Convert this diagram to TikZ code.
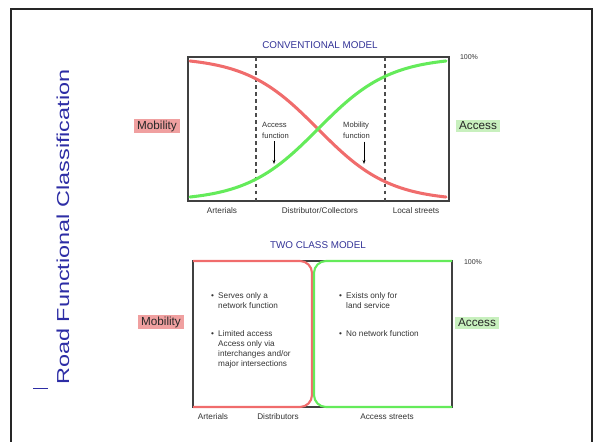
\documentclass[tikz,border=0pt]{standalone}
\usepackage{fontspec}
\setmainfont{Liberation Sans}
\usetikzlibrary{arrows.meta, positioning}

\definecolor{mobred}{RGB}{240,108,108}
\definecolor{accgreen}{RGB}{100,235,90}
\definecolor{mobfill}{RGB}{240,160,160}
\definecolor{accfill}{RGB}{200,240,190}
\definecolor{titleblue}{RGB}{50,50,150}
\definecolor{sideblue}{RGB}{45,45,165}

\newcommand{\blt}{\makebox[2.1mm][l]{\textbullet}}
\newcommand{\hang}{\hspace*{2.1mm}}

\begin{document}
\begin{tikzpicture}[x=0.03cm, y=-0.03cm,
    frame/.style={line width=1.7pt, black!85},
    chart/.style={draw=black!75, line width=0.9pt},
    divider/.style={dashed, line width=0.9pt, black!70},
    curve/.style={line width=2.6pt, line cap=round},
    heading/.style={font=\fontsize{8.4}{10}\selectfont, text=titleblue},
    axislabel/.style={font=\fontsize{7}{8}\selectfont, text=black!80},
    pct/.style={font=\fontsize{6}{7}\selectfont, text=black!80},
    tag/.style={font=\fontsize{10}{11}\selectfont, inner xsep=2.5pt, inner ysep=1.5pt, text=black!85},
    fnlabel/.style={font=\fontsize{6.5}{9}\selectfont, align=left, text=black!80, anchor=north west, inner sep=0pt},
    note/.style={font=\fontsize{7}{8.5}\selectfont, align=left, text=black!80, anchor=north west, inner sep=0pt},
    pointer/.style={-{Stealth[length=3.5pt, width=2.5pt]}, line width=0.6pt}
]
    \useasboundingbox (0,0) rectangle (593,441);

    % Slide frame
    \draw[frame] (11,445) -- (11,9) -- (592,9) -- (592,445);
    \draw[sideblue, line width=0.8pt] (33,388) -- (48,388);

    % Side title
    \node[rotate=90, yscale=0.74, font=\fontsize{20}{22}\selectfont, text=sideblue] (title) at (63,227) {Road Functional Classification};

    % Conventional model
    \node[heading] (convtitle) at (320,45) {CONVENTIONAL MODEL};
    \draw[chart] (188,57) rectangle (449,201);
    \draw[divider] (256,57) -- (256,201);
    \draw[divider] (385,57) -- (385,201);
    \draw[curve, mobred] plot[domain=190:446, samples=80] (\x, {57+144/(1+exp(-(\x-318)/36))});
    \draw[curve, accgreen] plot[domain=190:446, samples=80] (\x, {201-144/(1+exp(-(\x-318)/36))});
    \node[pct] (convpct) at (469,57) {100\%};

    \node[fnlabel] (accfn) at (262,122) {Access\\function};
    \node[fnlabel] (mobfn) at (343,122) {Mobility\\function};
    \coordinate (acctip) at (274,164);
    \coordinate (mobtip) at (364,164);
    \draw[pointer] (accfn.south -| acctip) ++(0,3) -- (acctip);
    \draw[pointer] (mobfn.south -| mobtip) ++(0,3) -- (mobtip);

    \node[axislabel] (arterials) at (222,211) {Arterials};
    \node[axislabel] (distcoll) at (320,211) {Distributor/Collectors};
    \node[axislabel] (local) at (416,211) {Local streets};

    \node[tag, fill=mobfill] (mobtop) at (157,126) {Mobility};
    \node[tag, fill=accfill] (acctop) at (478,126) {Access};

    % Two class model
    \node[heading] (twotitle) at (318,245) {TWO CLASS MODEL};
    \draw[chart] (193,261) rectangle (452,407);
    \draw[mobred, line width=1.8pt, rounded corners=3.6mm] (193,261) -- (312,261) -- (312,407) -- (193,407);
    \draw[accgreen, line width=1.8pt, rounded corners=3.6mm] (452,261) -- (314,261) -- (314,407) -- (452,407);
    \node[pct] (twopct) at (473,262) {100\%};

    \node[note] (serves) at (211,292) {\blt Serves only a\\\hang network function};
    \node[note] (limited) at (211,330) {\blt Limited access\\\hang Access only via\\\hang interchanges and/or\\\hang major intersections};
    \node[note] (exists) at (339,292) {\blt Exists only for\\\hang land service};
    \node[note] (nonet) at (339,330) {\blt No network function};

    \node[axislabel] (arterials2) at (213,417) {Arterials};
    \node[axislabel] (distrib) at (278,417) {Distributors};
    \node[axislabel] (accstreets) at (387,417) {Access streets};

    \node[tag, fill=mobfill] (mobbot) at (161,322) {Mobility};
    \node[tag, fill=accfill] (accbot) at (477,323) {Access};

\end{tikzpicture}
\end{document}
